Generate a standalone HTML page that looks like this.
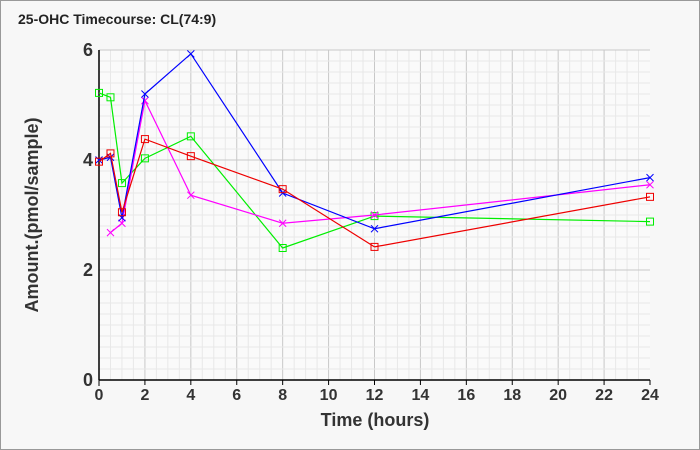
<!DOCTYPE html><html><head><style>body{margin:0;background:#fff}svg{display:block}text{font-family:"Liberation Sans",Arial,sans-serif}</style></head><body>
<svg width="700" height="450" xmlns="http://www.w3.org/2000/svg">
<rect x="0.5" y="0.5" width="699" height="449" fill="#f7f7f7" stroke="#999"/>
<text x="18" y="24" font-size="14" font-weight="bold" fill="#222">25-OHC Timecourse: CL(74:9)</text>
<rect x="99" y="50" width="551" height="330" fill="#fafafa"/>
<g id="grid"></g>
<line x1="99" y1="50" x2="99" y2="380" stroke="#000" stroke-width="1.5"/>
<line x1="99" y1="380" x2="650" y2="380" stroke="#000" stroke-width="1.5"/>
<g font-size="18" font-weight="bold" fill="#333" text-anchor="end">
<text x="93" y="56">6</text><text x="93" y="166">4</text><text x="93" y="276">2</text><text x="93" y="386">0</text></g>
<g id="xl" font-size="16" font-weight="bold" fill="#333" text-anchor="middle"></g>
<text x="375" y="426" font-size="18" font-weight="bold" fill="#333" text-anchor="middle">Time (hours)</text>
<text transform="translate(38,215) rotate(-90)" font-size="18" font-weight="bold" fill="#333" text-anchor="middle">Amount.(pmol/sample)</text>
<g id="series"></g>
</svg>
<script>
const ns="http://www.w3.org/2000/svg";
const X=h=>99+h*551/24, Y=v=>380-v*55;
const g=document.getElementById('grid');
function ln(p,x1,y1,x2,y2,c,w){const l=document.createElementNS(ns,'line');l.setAttribute('x1',x1);l.setAttribute('y1',y1);l.setAttribute('x2',x2);l.setAttribute('y2',y2);l.setAttribute('stroke',c);l.setAttribute('stroke-width',w);p.appendChild(l);}
for(let h=0.5;h<24;h+=0.5){ln(g,X(h),50,X(h),380,h%2==0?'#c8c8c8':'#e8e8e8',1);}
for(let v=0.2;v<6.01;v+=0.2){const vv=Math.round(v*10)/10;ln(g,99,Y(vv),650,Y(vv),(Math.round(vv*10)%20==0)?'#c8c8c8':'#e8e8e8',1);}
ln(g,99,380,99,386,'#000',1);
const xl=document.getElementById('xl');
for(let h=0;h<=24;h+=2){const t=document.createElementNS(ns,'text');t.setAttribute('x',X(h));t.setAttribute('y',400);t.textContent=h;xl.appendChild(t);ln(g,X(h),380,X(h),385,'#000',1);}
const S=document.getElementById('series');
const T=[0,0.5,1,2,4,8,12,24];
const data=[
['#00ee00','sq',[5.22,5.14,3.58,4.03,4.43,2.4,2.98,2.88]],
['#ff00ff','x',[null,2.68,2.85,5.08,3.36,2.85,3.0,3.55]],
['#0000ff','x',[4.0,4.05,2.95,5.2,5.93,3.4,2.75,3.68]],
['#ee0000','sq',[3.97,4.12,3.05,4.38,4.07,3.47,2.42,3.33]]];
data.forEach(([c,m,v])=>{let pts=[];v.forEach((y,i)=>{if(y!=null)pts.push([X(T[i]),Y(y)])});
const pl=document.createElementNS(ns,'polyline');pl.setAttribute('points',pts.map(p=>p.join(',')).join(' '));pl.setAttribute('fill','none');pl.setAttribute('stroke',c);pl.setAttribute('stroke-width',1.2);S.appendChild(pl);
pts.forEach(([x,y])=>{if(m=='sq'){const r=document.createElementNS(ns,'rect');r.setAttribute('x',x-3.5);r.setAttribute('y',y-3.5);r.setAttribute('width',7);r.setAttribute('height',7);r.setAttribute('fill','none');r.setAttribute('stroke',c);S.appendChild(r);}else{ln(S,x-3.5,y-3.5,x+3.5,y+3.5,c,1);ln(S,x-3.5,y+3.5,x+3.5,y-3.5,c,1);}});});
</script>
</body></html>
